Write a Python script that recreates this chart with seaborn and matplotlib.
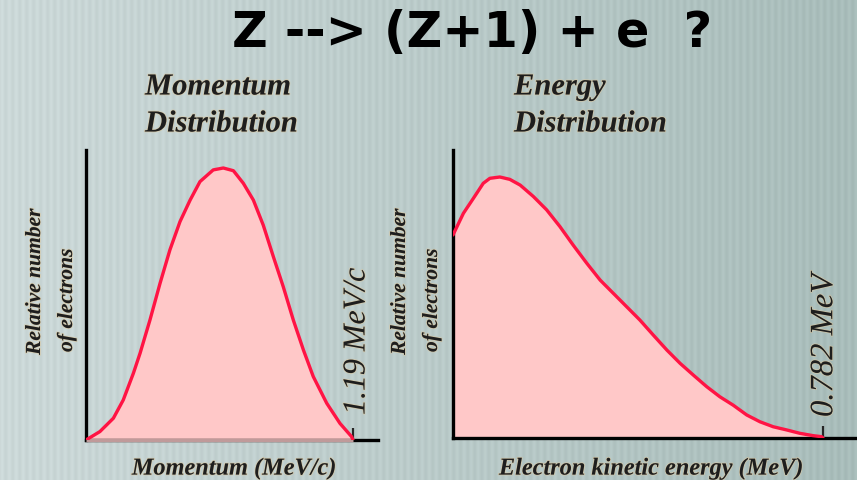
import numpy as np
import matplotlib
matplotlib.use("Agg")
import matplotlib.pyplot as plt
import matplotlib.patheffects as pe
import seaborn as sns

# momentum spectrum (MeV/c) and relative number of electrons
momentum = [0.0, 0.062, 0.122, 0.166, 0.211, 0.241, 0.285, 0.330, 0.374, 0.419,
            0.464, 0.508, 0.567, 0.612, 0.657, 0.701, 0.746, 0.790, 0.835, 0.879,
            0.924, 0.969, 1.013, 1.073, 1.132, 1.184, 1.19]
momentum_counts = [0.0, 0.031, 0.080, 0.147, 0.245, 0.319, 0.441, 0.576, 0.699, 0.803,
                   0.882, 0.950, 0.993, 1.0, 0.990, 0.944, 0.882, 0.790, 0.674, 0.564,
                   0.441, 0.331, 0.233, 0.135, 0.061, 0.012, 0.0]

# kinetic energy spectrum (MeV)
energy = [0.0, 0.022, 0.043, 0.064, 0.078, 0.099, 0.120, 0.142, 0.170, 0.198,
          0.226, 0.254, 0.283, 0.311, 0.339, 0.367, 0.395, 0.423, 0.452, 0.480,
          0.508, 0.536, 0.564, 0.592, 0.621, 0.649, 0.677, 0.705, 0.733, 0.761,
          0.779, 0.782]
energy_counts = [0.778, 0.861, 0.918, 0.976, 0.995, 1.0, 0.991, 0.969, 0.925, 0.874,
                 0.810, 0.739, 0.669, 0.605, 0.554, 0.503, 0.452, 0.395, 0.337, 0.286,
                 0.241, 0.197, 0.158, 0.126, 0.088, 0.062, 0.043, 0.031, 0.018, 0.009,
                 0.005, 0.0]

p_max = 1.19
e_max = 0.782
title = "Z --> (Z+1) + e  ?"

W, H = 857, 480
sns.set_theme(style="white")
plt.rcParams['font.family'] = ['DejaVu Sans']

fig = plt.figure(figsize=(W / 100, H / 100), dpi=100)

# striped grey-teal backdrop
cols = np.arange(W)
shade = np.linspace(0.0, 1.0, W)
stripe = 0.5 + 0.5 * np.sin(cols * 2 * np.pi / 7.0)
light = np.array([0.80, 0.85, 0.85])
dark = np.array([0.66, 0.74, 0.73])
row = light[None, :] * (1 - shade[:, None]) + dark[None, :] * shade[:, None]
row = row + (stripe[:, None] - 0.5) * 0.035
bg_img = np.clip(np.tile(row[None, :, :], (H, 1, 1)), 0, 1)
bg = fig.add_axes([0, 0, 1, 1])
bg.imshow(bg_img, aspect='auto', extent=[0, 1, 0, 1])
bg.set_axis_off()


def px(x, y):
    return x / W, 1 - y / H


serif = ['Liberation Serif', 'DejaVu Serif']
halo = [pe.withStroke(linewidth=1.2, foreground='#d8c8a4', alpha=0.7)]
line_col = '#ff1444'
fill_col = '#ffc8c8'


def panel(rect, xs, ys, xmax, xlim, ylim, tick_cols):
    ax = fig.add_axes(rect)
    ax.set_facecolor('none')
    ax.fill_between(xs, ys, 0, color=fill_col, lw=0, zorder=1)
    sns.lineplot(x=xs, y=ys, ax=ax, color=line_col, linewidth=2.4, zorder=4)
    ax.set_xlim(0, xlim)
    ax.set_ylim(0, ylim)
    for s in ['top', 'right']:
        ax.spines[s].set_visible(False)
    for s in ['left', 'bottom']:
        ax.spines[s].set_color('black')
        ax.spines[s].set_linewidth(2.4)
    ax.set_yticks([])
    ax.set_xticks([xmax * k / 5 for k in range(1, 6)])
    ax.set_xticklabels([])
    ax.tick_params(axis='x', direction='in', length=9, width=1.6, bottom=True)
    for t, c in zip(ax.xaxis.get_major_ticks(), tick_cols):
        t.tick1line.set_color(c)
    ax.set_xlabel('')
    ax.set_ylabel('')
    return ax


ax1 = panel([86 / W, 1 - 440 / H, (378 - 86) / W, 290 / H],
            momentum, momentum_counts, p_max,
            p_max * (378 - 86) / 267, 290 / 272, ['black'] * 5)
ax1.plot([momentum[0], momentum[-1]], [0, 0], color='#c09a9a', lw=2.4,
         zorder=3, solid_capstyle='butt', clip_on=False)

ax2 = panel([453 / W, 1 - 438 / H, (857 - 453) / W, 288 / H],
            energy, energy_counts, e_max,
            e_max * (857 - 453) / 370, 288 / 261,
            ['black', 'black', '#c4aaaa', '#8a7878', '#8a806a'])

# title
fig.text(*px(472, 33), title, ha='center', va='center', fontsize=35.5,
         fontweight='bold', color='black', family=['DejaVu Sans'])

# panel headings
for x, lines in [(145, ['Momentum', 'Distribution']), (514, ['Energy', 'Distribution'])]:
    for y, s in zip([87, 124], lines):
        fig.text(*px(x, y), s, ha='left', va='center', fontsize=22,
                 fontweight='bold', style='italic', color='#1e1e1e',
                 family=serif, path_effects=halo)

# y labels
for x1, x2 in [(35, 67), (400, 432)]:
    fig.text(*px(x1, 355), 'Relative number', rotation=90, rotation_mode='anchor',
             ha='left', va='center', fontsize=15.5, fontweight='bold', style='italic',
             color='#1e1e1e', family=serif, path_effects=halo)
    fig.text(*px(x2, 352), 'of electrons', rotation=90, rotation_mode='anchor',
             ha='left', va='center', fontsize=15.5, fontweight='bold', style='italic',
             color='#1e1e1e', family=serif, path_effects=halo)

# endpoint labels
fig.text(*px(357, 415), f'{p_max} MeV/c', rotation=90, rotation_mode='anchor',
         ha='left', va='center', fontsize=23, style='italic', color='#1e1e1e',
         family=serif, path_effects=halo)
fig.text(*px(824, 417), f'{e_max} MeV', rotation=90, rotation_mode='anchor',
         ha='left', va='center', fontsize=23.5, style='italic', color='#1e1e1e',
         family=serif, path_effects=halo)

# x labels
fig.text(*px(234, 469), 'Momentum (MeV/c)', ha='center', va='center', fontsize=17.5,
         fontweight='bold', style='italic', color='#1e1e1e', family=serif,
         path_effects=halo)
fig.text(*px(651, 469), 'Electron kinetic energy (MeV)', ha='center', va='center',
         fontsize=17.5, fontweight='bold', style='italic', color='#1e1e1e', family=serif,
         path_effects=halo)

fig.savefig('out.png', dpi=100)
